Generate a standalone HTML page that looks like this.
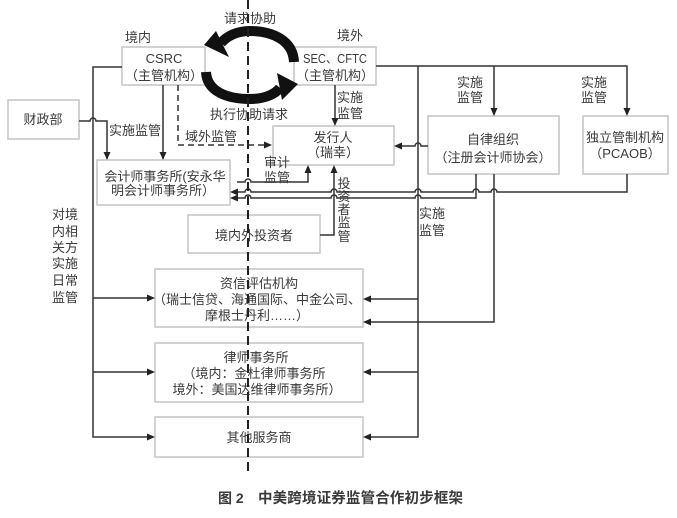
<!DOCTYPE html>
<html><head><meta charset="utf-8"><style>
html,body{margin:0;padding:0;background:#fff;}
svg{display:block;}
text{font-family:"Liberation Sans","Noto Sans CJK SC",sans-serif;fill:#3a3a3a;font-size:13px;}
</style></head><body>
<svg width="677" height="518" viewBox="0 0 677 518" xmlns="http://www.w3.org/2000/svg">
<g fill="#fff" stroke="#c4c4c4" stroke-width="1.5">
<rect x="122" y="47" width="83" height="38"/>
<rect x="294" y="47" width="82" height="38"/>
<rect x="8" y="100" width="71" height="39"/>
<rect x="273" y="126" width="121" height="39"/>
<rect x="428" y="116" width="131" height="58"/>
<rect x="583" y="116" width="85" height="58"/>
<rect x="97" y="160" width="133" height="45"/>
<rect x="188" y="215" width="132" height="38"/>
<rect x="155" y="269" width="208" height="58"/>
<rect x="155" y="343" width="208" height="59"/>
<rect x="155" y="417" width="208" height="40"/>
</g>
<g fill="none" stroke="#333" stroke-width="1.5">
<path d="M122,67 L93,67 L93,437 L148,437 M93,298 L148,298 M93,372 L148,372"/>
<path d="M79,121 L90,121 A3,3 0 0 1 96,121 L107,121 L107,153"/>
<path d="M163,85 L163,153"/>
<path d="M335,85 L335,119"/>
<path d="M376,66 L627,66 L627,109 M418,66 L418,437 L370,437 M494,66 L494,109 M418,299 L370,299 M418,372 L370,372"/>
<path d="M494,174 L494,322 L370,322"/>
<path d="M428,146 L421,146 A3,3 0 0 0 415,146 L402,146"/>
<path d="M237,182 L245,182 A3,3 0 0 1 251,182 L308,182 L308,172"/>
<path d="M237,192 L245,192 A3,3 0 0 1 251,192 L331,192 A3,3 0 0 1 337,192 L415,192 A3,3 0 0 1 421,192 L473,192 A3,3 0 0 1 479,192 L491,192 A3,3 0 0 1 497,192 L627,192 L627,174"/>
<path d="M237,198 L245,198 A3,3 0 0 1 251,198 L331,198 A3,3 0 0 1 337,198 L415,198 A3,3 0 0 1 421,198 L476,198 L476,174"/>
<path d="M320,235 L334,235 L334,172"/>
<path d="M178,85 L178,145 L265,145" stroke-dasharray="6 4"/>
</g>
<g fill="#222">
<polygon points="155,437 147,433.5 147,440.5"/>
<polygon points="155,298 147,294.5 147,301.5"/>
<polygon points="155,372 147,368.5 147,375.5"/>
<polygon points="107,160 103.5,152 110.5,152"/>
<polygon points="163,160 159.5,152 166.5,152"/>
<polygon points="335,126 331.5,118 338.5,118"/>
<polygon points="627,116 623.5,108 630.5,108"/>
<polygon points="494,116 490.5,108 497.5,108"/>
<polygon points="363,437 371,433.5 371,440.5"/>
<polygon points="363,299 371,295.5 371,302.5"/>
<polygon points="363,372 371,368.5 371,375.5"/>
<polygon points="363,322 371,318.5 371,325.5"/>
<polygon points="394,146 402,142.5 402,149.5"/>
<polygon points="230,192 238,188.5 238,195.5"/>
<polygon points="230,198 238,194.5 238,201.5"/>
<polygon points="308,165 304.5,173 311.5,173"/>
<polygon points="334,165 330.5,173 337.5,173"/>
<polygon points="272,145 264,141.5 264,148.5"/>
</g>
<!-- circular arrows -->
<g>
<path d="M294,62 C293,40 272,31 250,31 C237,31 227,36 221,43" fill="none" stroke="#111" stroke-width="10"/>
<polygon points="204,45 216,31 229,57" fill="#111"/>
<path d="M206,72 C207,92 228,99 250,99 C265,99 275,94 280,88" fill="none" stroke="#111" stroke-width="10"/>
<polygon points="298,84 277,73 282,100" fill="#111"/>
</g>
<!-- texts -->
<g text-anchor="middle">
<text x="250" y="23">请求协助</text>
<text x="138" y="42">境内</text>
<text x="350" y="40">境外</text>
<text x="164" y="63">CSRC</text>
<text x="164" y="80">（主管机构）</text>
<text x="335" y="63" textLength="64" lengthAdjust="spacingAndGlyphs">SEC、CFTC</text>
<text x="335" y="80">（主管机构）</text>
<text x="249" y="119">执行协助请求</text>
<text x="43" y="124">财政部</text>
<text x="135" y="135">实施监管</text>
<text x="211" y="141">域外监管</text>
<text x="350" y="102">实施</text>
<text x="350" y="118">监管</text>
<text x="333" y="142">发行人</text>
<text x="333" y="157">（瑞幸）</text>
<text x="470" y="87">实施</text>
<text x="470" y="102">监管</text>
<text x="594" y="87">实施</text>
<text x="594" y="102">监管</text>
<text x="493" y="144">自律组织</text>
<text x="493" y="162">（注册会计师协会）</text>
<text x="625" y="142">独立管制机构</text>
<text x="625" y="158">（PCAOB）</text>
<text x="165" y="181">会计师事务所(安永华</text>
<text x="163" y="195">明会计师事务所）</text>
<text x="277" y="167">审计</text>
<text x="277" y="182">监管</text>
<text x="254" y="240">境内外投资者</text>
<text x="344" y="188">投</text>
<text x="344" y="201">资</text>
<text x="344" y="214">者</text>
<text x="344" y="227">监</text>
<text x="344" y="241">管</text>
<text x="432" y="218">实施</text>
<text x="432" y="235">监管</text>
<text x="65" y="219">对境</text>
<text x="65" y="236">内相</text>
<text x="65" y="252">关方</text>
<text x="65" y="268">实施</text>
<text x="65" y="285">日常</text>
<text x="65" y="302">监管</text>
<text x="259" y="288">资信评估机构</text>
<text x="257" y="304">（瑞士信贷、海通国际、中金公司、</text>
<text x="257" y="320">摩根士丹利……）</text>
<text x="256" y="362">律师事务所</text>
<text x="254" y="378">（境内：金杜律师事务所</text>
<text x="257" y="394">境外：美国达维律师事务所）</text>
<text x="259" y="442">其他服务商</text>
</g>
<text x="218" y="503" style="font-size:14px;font-weight:bold;">图 2</text>
<text x="258" y="503" style="font-size:14.5px;font-weight:bold;" textLength="205">中美跨境证券监管合作初步框架</text>
<!-- central dashed line -->
<path d="M248,0 L248,476" stroke="#222" stroke-width="2" stroke-dasharray="9 5" fill="none"/>
</svg>
</body></html>
